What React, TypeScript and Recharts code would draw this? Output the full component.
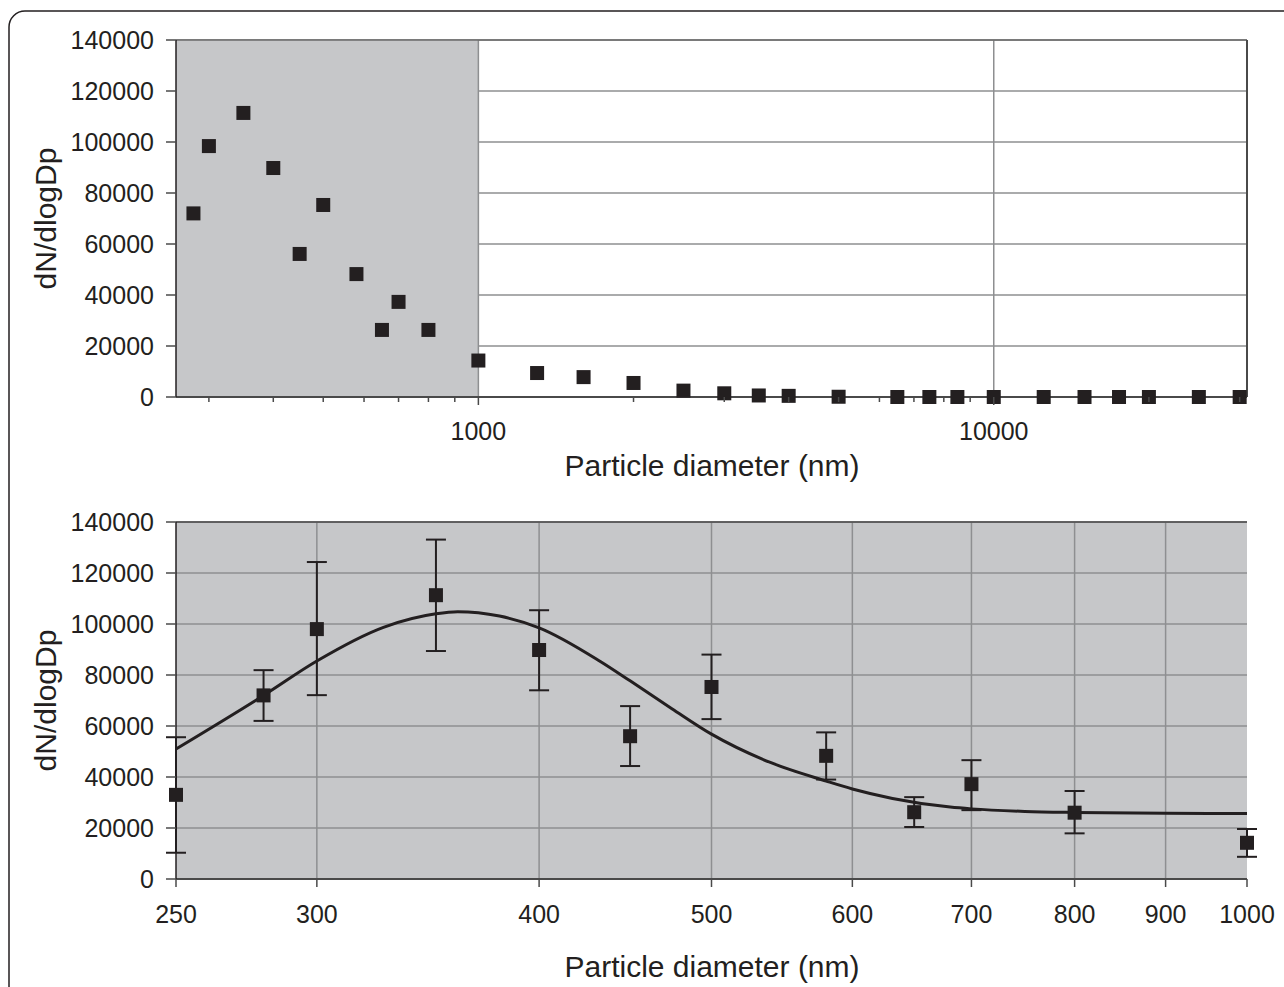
import React from 'react';
import {
  ComposedChart,
  Scatter,
  Line,
  XAxis,
  YAxis,
  CartesianGrid,
  ReferenceArea,
  ReferenceLine,
  ErrorBar,
} from 'recharts';

// ---------- Data ----------
// Top panel: full size distribution (nm, dN/dlogDp)
const TOP_SIZE = [280, 300, 350, 400, 450, 500, 580, 650, 700, 800, 1000, 1300, 1600, 2000, 2500, 3000, 3500, 4000, 5000, 6500, 7500, 8500, 10000, 12500, 15000, 17500, 20000, 25000, 30000];
const TOP_VALUE = [72000, 98400, 111400, 89800, 56100, 75300, 48200, 26300, 37300, 26300, 14300, 9400, 7800, 5500, 2500, 1450, 600, 450, 100, 0, 0, 0, 0, 0, 0, 0, 0, 0, 0];

// Bottom panel: sub-micron points with error bars
const SIZE_NM = [250, 280, 300, 350, 400, 450, 500, 580, 650, 700, 800, 1000];
const MEAN = [33000, 72000, 98000, 111300, 89800, 56000, 75300, 48300, 26200, 37200, 26000, 14200];
const LOW = [10300, 62000, 72100, 89400, 74000, 44300, 62700, 39000, 20400, 27000, 17900, 8700];
const HIGH = [55600, 81900, 124300, 133100, 105400, 67800, 88000, 57500, 32100, 46600, 34500, 19600];

// Bottom panel: fitted curve
const FIT_SIZE = [250, 280, 300, 327, 350, 360, 380, 400, 433, 450, 475, 500, 540, 580, 600, 632, 681, 700, 750, 800, 900, 1000];
const FIT_VALUE = [51000, 72000, 85500, 98700, 104000, 104800, 103100, 98500, 85300, 77700, 66800, 56800, 45600, 38400, 35300, 31600, 28200, 27500, 26500, 26100, 25800, 25700];

// Axis ticks
const Y_TICKS = [0, 20000, 40000, 60000, 80000, 100000, 120000, 140000];
const TOP_X_TICKS = [300, 400, 500, 600, 700, 800, 900, 1000, 2000, 3000, 4000, 5000, 6000, 7000, 8000, 9000, 10000, 20000, 30000];
const TOP_X_LABELED = [1000, 10000];
const TOP_X_DOMAIN = [259, 31000];
const BOTTOM_X_TICKS = [250, 300, 400, 500, 600, 700, 800, 900, 1000];
const BOTTOM_X_GRID = [300, 400, 500, 600, 700, 800, 900];
const BOTTOM_X_DOMAIN = [250, 1000];

const X_TITLE = 'Particle diameter (nm)';
const Y_TITLE = 'dN/dlogDp';

// ---------- Derived tables ----------
const topData = TOP_SIZE.map((x, i) => ({ x, y: TOP_VALUE[i] }));
const bottomData = SIZE_NM.map((x, i) => ({
  x,
  y: MEAN[i],
  err: [MEAN[i] - LOW[i], HIGH[i] - MEAN[i]],
}));
const fitData = FIT_SIZE.map((x, i) => ({ x, y: FIT_VALUE[i] }));

// ---------- Styles ----------
const FONT = '"Liberation Sans", Arial, Helvetica, sans-serif';
const INK = '#231f20';
const GREY_BG = '#c6c7c9';
const GRID = '#8e8f91';
const AXIS_DARK = '#4a4a4a';
const TICK_FONT = 25;
const TITLE_FONT = 30;

const Square = (props: any) => {
  const { cx, cy } = props;
  if (cx == null || cy == null) return null;
  return <rect x={cx - 7} y={cy - 7} width={14} height={14} fill={INK} />;
};

const TopTick = (props: any) => {
  const { x, y, payload } = props;
  const labeled = TOP_X_LABELED.includes(payload.value);
  return (
    <g>
      <line x1={x} x2={x} y1={y} y2={y + (labeled ? 8 : 5)} stroke={AXIS_DARK} strokeWidth={1.5} />
      {labeled && (
        <text x={x} y={y + 43} textAnchor="middle" fill={INK} fontSize={TICK_FONT} fontFamily={FONT}>
          {payload.value}
        </text>
      )}
    </g>
  );
};

const BottomTick = (props: any) => {
  const { x, y, payload } = props;
  return (
    <g>
      <line x1={x} x2={x} y1={y} y2={y + 8} stroke={AXIS_DARK} strokeWidth={1.5} />
      <text x={x} y={y + 44} textAnchor="middle" fill={INK} fontSize={TICK_FONT} fontFamily={FONT}>
        {payload.value}
      </text>
    </g>
  );
};

const yAxisProps = {
  type: 'number' as const,
  domain: [0, 140000],
  ticks: Y_TICKS,
  interval: 0 as const,
  width: 60,
  tickSize: 10,
  tickMargin: 12,
  axisLine: { stroke: INK, strokeWidth: 1.5 },
  tickLine: { stroke: AXIS_DARK, strokeWidth: 1.5 },
  tick: { fill: INK, fontSize: TICK_FONT, fontFamily: FONT },
};

export default function App() {
  return (
    <div
      style={{
        position: 'absolute',
        left: 0,
        top: 0,
        width: 1284,
        height: 987,
        overflow: 'hidden',
        background: '#ffffff',
        fontFamily: FONT,
      }}
    >
      {/* Top panel */}
      <div style={{ position: 'absolute', left: 0, top: 0 }}>
        <ComposedChart
          width={1284}
          height={480}
          data={topData}
          margin={{ top: 40, right: 37, bottom: 43, left: 116 }}
        >
          <ReferenceArea
            x1={TOP_X_DOMAIN[0]}
            x2={1000}
            y1={0}
            y2={140000}
            fill={GREY_BG}
            fillOpacity={1}
            stroke="none"
          />
          <CartesianGrid vertical={false} stroke={GRID} strokeWidth={1.5} />
          {TOP_X_LABELED.map((v) => (
            <ReferenceLine key={v} x={v} stroke={GRID} strokeWidth={1.5} />
          ))}
          <ReferenceLine y={140000} stroke="#6a6a6a" strokeWidth={1.5} />
          <ReferenceLine x={TOP_X_DOMAIN[1]} stroke={AXIS_DARK} strokeWidth={2} />
          <XAxis
            dataKey="x"
            type="number"
            scale="log"
            domain={TOP_X_DOMAIN}
            ticks={TOP_X_TICKS}
            interval={0}
            height={40}
            tickSize={0}
            tickMargin={0}
            tickLine={false}
            axisLine={{ stroke: AXIS_DARK, strokeWidth: 2 }}
            tick={<TopTick />}
          />
          <YAxis {...yAxisProps} />
          <Scatter dataKey="y" data={topData} shape={<Square />} isAnimationActive={false} />
        </ComposedChart>
      </div>

      {/* Bottom panel */}
      <div style={{ position: 'absolute', left: 0, top: 480 }}>
        <ComposedChart
          width={1284}
          height={507}
          data={bottomData}
          margin={{ top: 42, right: 37, bottom: 68, left: 116 }}
        >
          <CartesianGrid vertical={false} stroke={GRID} strokeWidth={1.5} fill={GREY_BG} fillOpacity={1} />
          {BOTTOM_X_GRID.map((v) => (
            <ReferenceLine key={v} x={v} stroke={GRID} strokeWidth={1.5} />
          ))}
          <ReferenceLine y={140000} stroke="#4a4a4a" strokeWidth={1.5} />
          <XAxis
            dataKey="x"
            type="number"
            scale="log"
            domain={BOTTOM_X_DOMAIN}
            ticks={BOTTOM_X_TICKS}
            interval={0}
            height={40}
            tickSize={0}
            tickMargin={0}
            tickLine={false}
            axisLine={{ stroke: AXIS_DARK, strokeWidth: 2 }}
            tick={<BottomTick />}
          />
          <YAxis {...yAxisProps} />
          <Line
            data={fitData}
            dataKey="y"
            type="monotone"
            stroke={INK}
            strokeWidth={3}
            dot={false}
            activeDot={false}
            isAnimationActive={false}
          />
          <Scatter dataKey="y" data={bottomData} shape={<Square />} isAnimationActive={false}>
            <ErrorBar dataKey="err" direction="y" width={10} stroke={INK} strokeWidth={2} isAnimationActive={false} />
          </Scatter>
        </ComposedChart>
      </div>

      {/* Frame and axis titles */}
      <svg
        width={1284}
        height={987}
        style={{ position: 'absolute', left: 0, top: 0, pointerEvents: 'none' }}
      >
        <rect x={9} y={11} width={1320} height={1020} rx={16} ry={16} fill="none" stroke={INK} strokeWidth={1.5} />
        <text x={712} y={476} textAnchor="middle" fill={INK} fontSize={TITLE_FONT} fontFamily={FONT}>
          {X_TITLE}
        </text>
        <text x={712} y={977} textAnchor="middle" fill={INK} fontSize={TITLE_FONT} fontFamily={FONT}>
          {X_TITLE}
        </text>
        <text
          transform="translate(56, 218.5) rotate(-90)"
          textAnchor="middle"
          fill={INK}
          fontSize={TITLE_FONT}
          fontFamily={FONT}
        >
          {Y_TITLE}
        </text>
        <text
          transform="translate(56, 700.5) rotate(-90)"
          textAnchor="middle"
          fill={INK}
          fontSize={TITLE_FONT}
          fontFamily={FONT}
        >
          {Y_TITLE}
        </text>
      </svg>
    </div>
  );
}
